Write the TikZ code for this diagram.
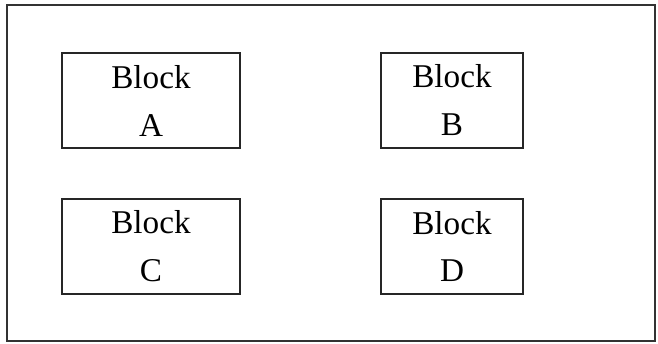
\documentclass[tikz,border=0pt]{standalone}
\usepackage{fontspec}
\setmainfont{Liberation Serif}
\usepackage{tikz}

\tikzset{
  blockbox/.style={draw=black!85, line width=1.1pt, rectangle, align=center,
    inner sep=0pt, font=\fontsize{18.9}{27.3}\selectfont}
}

\begin{document}
\begin{tikzpicture}[x=0.02cm, y=-0.02cm]
                \useasboundingbox (0,0) rectangle (658,343);
                % Draw the outer frame
                \draw[black!80, line width=0.9pt] (7,5) rectangle (655,341);
                % Draw the four blocks
                \foreach \name/\x/\y/\w in {A/151/100.5/178, B/452/100.5/142, C/151/246.5/178, D/452/246.5/142}{
                    \node[blockbox, minimum width=\w*0.02cm, minimum height=95*0.02cm]
                        (block\name) at (\x,\y) {Block\\\name};
                }
            \end{tikzpicture}
\end{document}
